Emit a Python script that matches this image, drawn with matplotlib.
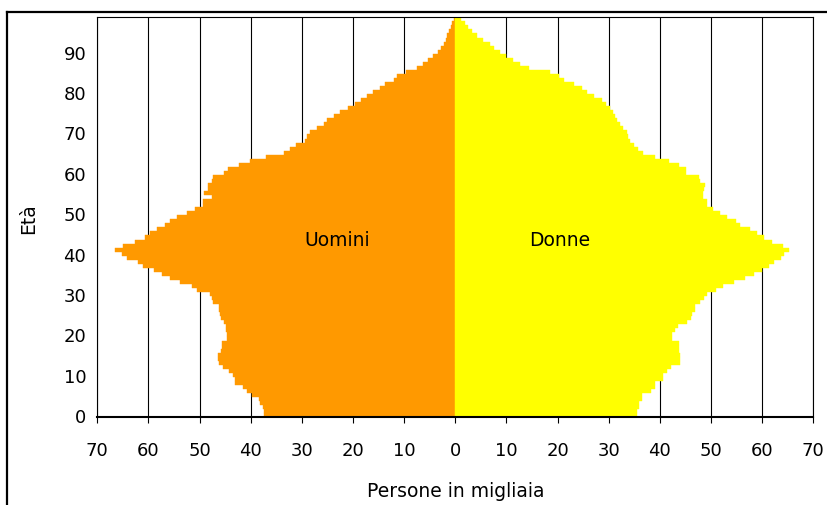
import matplotlib
matplotlib.use("Agg")
import matplotlib.pyplot as plt
from matplotlib.lines import Line2D
import numpy as np

plt.rcParams['font.family'] = ['DejaVu Sans']

ages = list(range(0, 99))

uomini = [37.5, 37.5, 37.6, 38.2, 38.3, 39.8, 40.8, 41.5, 43.0, 43.0,
          43.5, 44.2, 45.5, 46.2, 46.4, 46.4, 45.8, 45.7, 45.7, 44.7,
          44.6, 44.9, 44.9, 45.3, 45.8, 46.0, 46.2, 46.3, 47.3, 47.6,
          48.0, 50.5, 51.5, 53.8, 55.8, 57.4, 59.0, 61.0, 62.0, 64.2,
          65.2, 66.5, 64.9, 62.6, 60.7, 59.7, 58.4, 56.8, 55.8, 54.4,
          52.5, 50.9, 49.3, 49.3, 47.6, 49.1, 48.3, 48.3, 47.6, 47.3,
          45.3, 44.4, 42.2, 40.1, 37.0, 33.5, 32.3, 31.1, 29.4, 29.0,
          28.4, 27.1, 25.6, 25.1, 23.8, 22.6, 21.0, 19.7, 18.5, 17.3,
          16.0, 14.7, 13.7, 12.0, 11.4, 9.7, 7.4, 6.3, 5.3, 4.4,
          3.3, 2.7, 2.3, 1.9, 1.7, 1.2, 0.8, 0.7, 0.33]

donne = [35.5, 35.5, 35.9, 35.9, 36.5, 36.5, 38.2, 39.1, 39.1, 40.6,
         40.6, 41.4, 42.1, 44.0, 44.0, 44.0, 43.7, 43.7, 43.7, 42.4,
         42.4, 42.9, 43.5, 45.3, 46.0, 46.3, 46.9, 46.9, 47.8, 48.6,
         49.2, 50.9, 52.4, 54.5, 56.6, 58.5, 60.0, 61.3, 62.3, 63.6,
         64.2, 65.2, 64.1, 61.9, 60.3, 59.0, 57.7, 55.6, 54.8, 53.2,
         51.7, 50.4, 49.2, 49.2, 48.4, 48.4, 48.6, 48.9, 47.9, 47.7,
         45.2, 45.2, 43.7, 41.7, 39.1, 36.7, 35.7, 34.9, 34.1, 33.7,
         33.5, 32.8, 32.2, 31.6, 31.2, 30.8, 30.3, 29.5, 28.6, 27.1,
         25.8, 24.8, 23.2, 21.3, 20.2, 18.5, 14.5, 12.7, 11.3, 10.0,
         8.7, 7.5, 6.7, 5.5, 4.2, 3.3, 2.4, 1.8, 1.1]

x_ticks = [-70, -60, -50, -40, -30, -20, -10, 0, 10, 20, 30, 40, 50, 60, 70]
x_tick_labels = ["70", "60", "50", "40", "30", "20", "10", "0",
                 "10", "20", "30", "40", "50", "60", "70"]
y_ticks = [0, 10, 20, 30, 40, 50, 60, 70, 80, 90]

W, H = 828, 506
fig = plt.figure(figsize=(W / 100, H / 100), dpi=100)
ax = fig.add_axes([97.3 / W, 1 - 418.3 / H, (813.3 - 97.3) / W, 400 / H])

orange = "#FF9900"
yellow = "#FFFF00"

ax.barh(ages, [-v for v in uomini], height=1.0, color=orange,
        edgecolor=orange, linewidth=0.3, zorder=2)
ax.barh(ages, donne, height=1.0, color=yellow,
        edgecolor=yellow, linewidth=0.3, zorder=2)

ax.set_xlim(-70, 70)
ax.set_ylim(-0.5, 98.5)
ax.set_xticks(x_ticks)
ax.set_xticklabels(x_tick_labels)
ax.set_yticks(y_ticks)
ax.set_yticklabels([str(v) for v in y_ticks])

for xv in x_ticks:
    ax.axvline(xv, color="black", linewidth=0.8, zorder=1)

ax.tick_params(axis="x", direction="out", length=4, width=0.8,
               pad=13, labelsize=13, colors="black")
ax.tick_params(axis="y", length=0, pad=8, labelsize=13)

for s in ["top", "left", "right"]:
    ax.spines[s].set_linewidth(0.8)
    ax.spines[s].set_zorder(3)
ax.spines["bottom"].set_linewidth(1.5)
ax.spines["bottom"].set_zorder(3)

ax.set_xlabel("Persone in migliaia", fontsize=13.5, labelpad=16)
ax.set_ylabel("Età", fontsize=13.5, labelpad=18)

ax.text(-23, 43.6, "Uomini", fontsize=13.5, ha="center", va="center", zorder=4)
ax.text(20.4, 43.6, "Donne", fontsize=13.5, ha="center", va="center", zorder=4)

# outer frame (top and left border)
fig.add_artist(Line2D([7.5 / W, 1.0], [1 - 13.3 / H, 1 - 13.3 / H],
                      color="black", linewidth=1.6, transform=fig.transFigure))
fig.add_artist(Line2D([7.5 / W, 7.5 / W], [0, 1 - 13.3 / H],
                      color="black", linewidth=1.6, transform=fig.transFigure))

fig.savefig("out.png", dpi=100, facecolor="white")
